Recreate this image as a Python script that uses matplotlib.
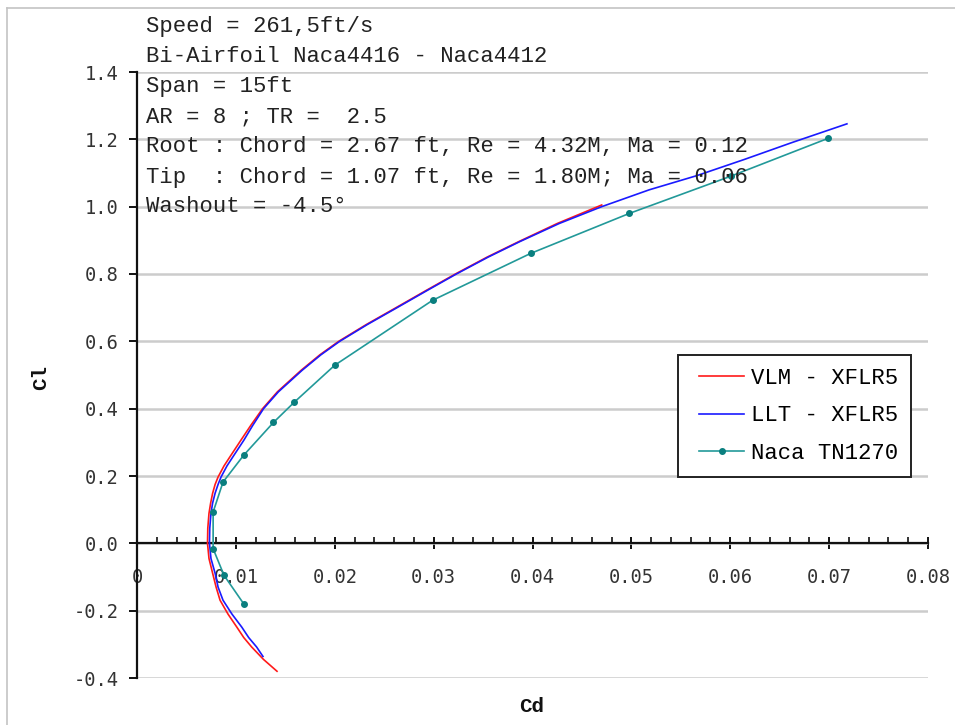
import matplotlib
matplotlib.use("Agg")
import matplotlib.pyplot as plt
from matplotlib.lines import Line2D
from matplotlib.legend_handler import HandlerLine2D
from matplotlib.ticker import MultipleLocator

# ---------------- data ----------------
vlm_cl = [-0.380, -0.345, -0.308, -0.280, -0.249, -0.210, -0.169, -0.130, -0.089,
          -0.045, 0.000, 0.045, 0.089, 0.120, 0.149, 0.175, 0.197, 0.230, 0.257,
          0.306, 0.350, 0.400, 0.450, 0.514, 0.560, 0.600, 0.650, 0.700, 0.752,
          0.800, 0.850, 0.896, 0.950, 1.005]
vlm_cd = [0.01416, 0.0128, 0.0116, 0.0108, 0.0101, 0.0092, 0.0084, 0.0080, 0.00765,
          0.00728, 0.00713, 0.00716, 0.00728, 0.00745, 0.00765, 0.0079, 0.0082, 0.0088, 0.0094,
          0.0105, 0.0115, 0.0127, 0.0142, 0.0166, 0.0185, 0.0204, 0.0232, 0.0262, 0.0293,
          0.0322, 0.0354, 0.0386, 0.0425, 0.0470]

llt_cl = [-0.336, -0.308, -0.280, -0.249, -0.210, -0.169, -0.130, -0.089, -0.045,
          0.000, 0.045, 0.089, 0.120, 0.149, 0.175, 0.197, 0.230, 0.257, 0.306,
          0.350, 0.400, 0.450, 0.514, 0.560, 0.600, 0.650, 0.700, 0.752, 0.800,
          0.850, 0.896, 0.950, 1.000, 1.050, 1.092, 1.140, 1.190, 1.246]
llt_cd = [0.01274, 0.0121, 0.0113, 0.0106, 0.0096, 0.0087, 0.0082, 0.0079, 0.00748,
          0.00733, 0.00736, 0.00748, 0.00765, 0.0079, 0.0082, 0.0085, 0.0091, 0.0097, 0.0108,
          0.0117, 0.0128, 0.0143, 0.0167, 0.0186, 0.0205, 0.0233, 0.0263, 0.0294, 0.0323,
          0.0355, 0.0387, 0.0427, 0.0470, 0.0518, 0.0566, 0.0614, 0.0662, 0.0718]

naca_cd = [0.0108, 0.0088, 0.0077, 0.0077, 0.0087, 0.0108, 0.0138, 0.0159, 0.0200,
           0.0299, 0.0398, 0.0498, 0.0601, 0.0699]
naca_cl = [-0.180, -0.095, -0.016, 0.093, 0.182, 0.262, 0.359, 0.419, 0.529,
           0.722, 0.861, 0.980, 1.091, 1.203]

x_ticks = [0, 0.01, 0.02, 0.03, 0.04, 0.05, 0.06, 0.07, 0.08]
x_ticklabels = ["0", "0.01", "0.02", "0.03", "0.04", "0.05", "0.06", "0.07", "0.08"]
y_ticks = [-0.4, -0.2, 0.0, 0.2, 0.4, 0.6, 0.8, 1.0, 1.2, 1.4]
y_ticklabels = ["-0.4", "-0.2", "0.0", "0.2", "0.4", "0.6", "0.8", "1.0", "1.2", "1.4"]

series_labels = ["VLM - XFLR5", "LLT - XFLR5", "Naca TN1270"]

info_lines = [
    "Speed = 261,5ft/s",
    "Bi-Airfoil Naca4416 - Naca4412",
    "Span = 15ft",
    "AR = 8 ; TR =  2.5",
    "Root : Chord = 2.67 ft, Re = 4.32M, Ma = 0.12",
    "Tip  : Chord = 1.07 ft, Re = 1.80M; Ma = 0.06",
    "Washout = -4.5\u00b0",
]

# ---------------- figure ----------------
W, H = 955, 725
fig = plt.figure(figsize=(W / 100, H / 100), dpi=100)
fig.patch.set_facecolor("white")

def fx(px):
    return px / W

def fy(py):
    return 1 - py / H

ax = fig.add_axes([fx(137), fy(678), fx(928) - fx(137), fy(72) - fy(678)])
ax.set_xlim(0, 0.08)
ax.set_ylim(-0.4, 1.4)

ax.set_yticks(y_ticks)
ax.yaxis.grid(True, color="#cccccc", linewidth=1.8, zorder=0)
ax.set_axisbelow(True)

for s in ("top", "right"):
    ax.spines[s].set_visible(False)
ax.spines["bottom"].set_position(("data", 0))
ax.spines["left"].set_position(("data", 0))
for s in ("bottom", "left"):
    ax.spines[s].set_color("#111111")
    ax.spines[s].set_linewidth(1.6)

mono = "Liberation Mono"
tick_font = "DejaVu Sans Mono"

ax.set_xticks(x_ticks)
ax.set_xticklabels(x_ticklabels, fontfamily=tick_font, fontsize=13.5, color="#333333")
ax.set_yticklabels(y_ticklabels, fontfamily=tick_font, fontsize=13.5, color="#333333")
ax.xaxis.set_minor_locator(MultipleLocator(0.002))
ax.tick_params(axis="x", which="major", direction="inout", length=9, width=1.4,
               color="#111111", pad=13)
ax.tick_params(axis="x", which="minor", direction="in", length=4, width=1.2,
               color="#111111")
ax.tick_params(axis="y", which="major", direction="out", length=6, width=1.4,
               color="#111111", pad=7)

ax.plot(vlm_cd, vlm_cl, color="#ff1a1a", linewidth=1.2, label=series_labels[0], zorder=3)
ax.plot(llt_cd, llt_cl, color="#1a1aff", linewidth=1.2, label=series_labels[1], zorder=3)
ax.plot(naca_cd, naca_cl, color="#229999", linewidth=1.2, marker="o", markersize=4,
        markerfacecolor="#0a7f7f", markeredgecolor="#0a7f7f",
        label=series_labels[2], zorder=3)

leg = ax.legend(loc="upper left", bbox_to_anchor=(fx(678), fy(355)),
                bbox_transform=fig.transFigure,
                prop={"family": mono, "size": 16},
                frameon=True, fancybox=False, framealpha=1, edgecolor="#222222",
                handlelength=2.4, handletextpad=0.3, labelspacing=0.74,
                borderpad=0.58, borderaxespad=0,
                handler_map={Line2D: HandlerLine2D(xpad=0.38)})
leg.get_frame().set_linewidth(1.4)

baselines = [32, 62.5, 92, 122, 152.5, 183, 212.5]
for line, b in zip(info_lines, baselines):
    fig.text(fx(146), fy(b), line, fontfamily=mono, fontsize=16,
             color="#222222", va="baseline", ha="left", zorder=5)

fig.text(fx(532), fy(706), "Cd", fontfamily=mono, fontsize=15, fontweight="bold",
         color="#111111", ha="center", va="center")
fig.text(fx(41), fy(378), "Cl", fontfamily=mono, fontsize=15, fontweight="bold",
         color="#111111", ha="center", va="center", rotation=90)

fig.add_artist(Line2D([fx(7), fx(7)], [fy(8), 0], transform=fig.transFigure,
                      color="#c4c4c4", linewidth=1.2))
fig.add_artist(Line2D([fx(7), 1], [fy(8), fy(8)], transform=fig.transFigure,
                      color="#c4c4c4", linewidth=1.2))

fig.savefig("out.png", dpi=100, facecolor="white")
